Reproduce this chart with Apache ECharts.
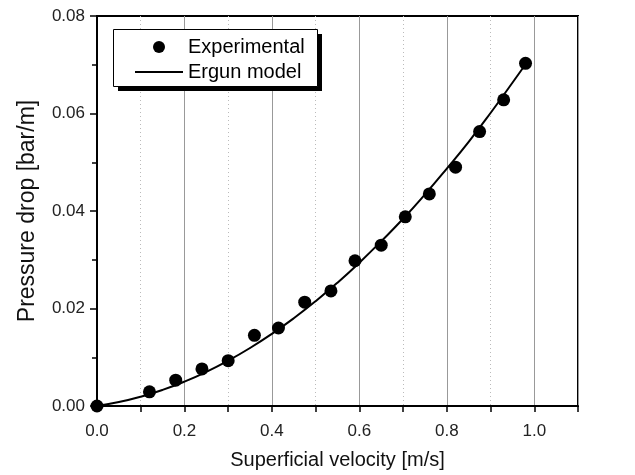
<!DOCTYPE html>
<html>
<head>
<meta charset="utf-8">
<script src="https://cdn.jsdelivr.net/npm/echarts@6/dist/echarts.min.js"></script>
<style>
  html, body { margin: 0; padding: 0; background: #fff; }
  #chart { width: 635px; height: 475px; }
</style>
</head>
<body>
<div id="chart"></div>
<script>
// Measured pressure drop across the packed bed
const expVelocity = [0.0, 0.12, 0.18, 0.24, 0.30, 0.36, 0.415, 0.475, 0.535, 0.59, 0.65, 0.705, 0.76, 0.82, 0.875, 0.93, 0.98];
const expPressure = [0.0, 0.0029, 0.0053, 0.0076, 0.0093, 0.0145, 0.0160, 0.0213, 0.0236, 0.0298, 0.0330, 0.0388, 0.0435, 0.0490, 0.0563, 0.0628, 0.0703];

// Ergun model curve
const modelVelocity = [0.0, 0.05, 0.10, 0.15, 0.20, 0.25, 0.30, 0.35, 0.40, 0.45, 0.50, 0.55, 0.60, 0.65, 0.70, 0.75, 0.80, 0.85, 0.90, 0.95, 0.98];
const modelPressure = [0.0, 0.0008, 0.0019, 0.0033, 0.0050, 0.0070, 0.0093, 0.0119, 0.0148, 0.0180, 0.0215, 0.0253, 0.0294, 0.0338, 0.0384, 0.0434, 0.0487, 0.0542, 0.0601, 0.0663, 0.0701];

const xTitle = 'Superficial velocity [m/s]';
const yTitle = 'Pressure drop [bar/m]';
const seriesNames = ['Experimental', 'Ergun model'];

const FONT = "'Liberation Sans', Arial, sans-serif";
const chart = echarts.init(document.getElementById('chart'), null, { renderer: 'canvas' });

chart.setOption({
  backgroundColor: '#fff',
  animation: false,
  grid: {
    left: 97, right: 57, top: 16, bottom: 67,
    show: true, borderColor: '#000', borderWidth: 2, backgroundColor: 'transparent'
  },
  // legend frame with a solid drop shadow
  graphic: [
    { type: 'rect', left: 118, top: 34, z: 10, silent: true,
      shape: { width: 204, height: 57 }, style: { fill: '#000' } },
    { type: 'rect', left: 113, top: 29, z: 11, silent: true,
      shape: { width: 204, height: 57 }, style: { fill: '#fff', stroke: '#000', lineWidth: 1 } }
  ],
  legend: {
    orient: 'vertical',
    left: 134, top: 36, padding: 0, z: 20,
    itemWidth: 48, itemHeight: 12, itemGap: 3,
    textStyle: { fontFamily: FONT, fontSize: 20, color: '#000', lineHeight: 22 },
    data: [
      { name: seriesNames[0] },
      { name: seriesNames[1], itemStyle: { opacity: 0 } }
    ]
  },
  xAxis: {
    type: 'value', min: 0, max: 1.1, interval: 0.2,
    name: xTitle, nameLocation: 'middle', nameGap: 44,
    nameTextStyle: { fontFamily: FONT, fontSize: 20, color: '#111' },
    axisLine: { show: true, onZero: false, lineStyle: { color: '#000', width: 2 } },
    axisTick: { show: true, length: 6, lineStyle: { color: '#000', width: 1.5 } },
    minorTick: { show: true, splitNumber: 2, length: 6, lineStyle: { color: '#000', width: 1.5 } },
    axisLabel: {
      fontFamily: FONT, fontSize: 17, color: '#222', margin: 17, showMaxLabel: false,
      formatter: v => v.toFixed(1)
    },
    splitLine: { show: true, lineStyle: { color: '#999', width: 1 } },
    minorSplitLine: { show: true, lineStyle: { color: '#bbb', width: 1, type: [1, 3] } }
  },
  yAxis: {
    type: 'value', min: 0, max: 0.08, interval: 0.02,
    name: yTitle, nameLocation: 'middle', nameGap: 58, nameRotate: 90,
    nameTextStyle: { fontFamily: FONT, fontSize: 23, color: '#111' },
    axisLine: { show: true, onZero: false, lineStyle: { color: '#000', width: 2 } },
    axisTick: { show: true, length: 7, lineStyle: { color: '#000', width: 1.5 } },
    minorTick: { show: true, splitNumber: 2, length: 5, lineStyle: { color: '#000', width: 1.5 } },
    axisLabel: {
      fontFamily: FONT, fontSize: 17, color: '#222', margin: 12,
      formatter: v => v.toFixed(2)
    },
    splitLine: { show: false }
  },
  series: [
    {
      name: seriesNames[0], type: 'scatter', clip: true,
      data: expVelocity.map((v, i) => [v, expPressure[i]]),
      symbol: 'circle', symbolSize: 13, symbolKeepAspect: true,
      itemStyle: { color: '#000', opacity: 1 }, z: 5
    },
    {
      name: seriesNames[1], type: 'line', smooth: true,
      data: modelVelocity.map((v, i) => [v, modelPressure[i]]),
      symbol: 'none', showSymbol: false,
      lineStyle: { color: '#000', width: 2 }, itemStyle: { color: '#000' }, z: 3
    }
  ]
});
</script>
</body>
</html>
